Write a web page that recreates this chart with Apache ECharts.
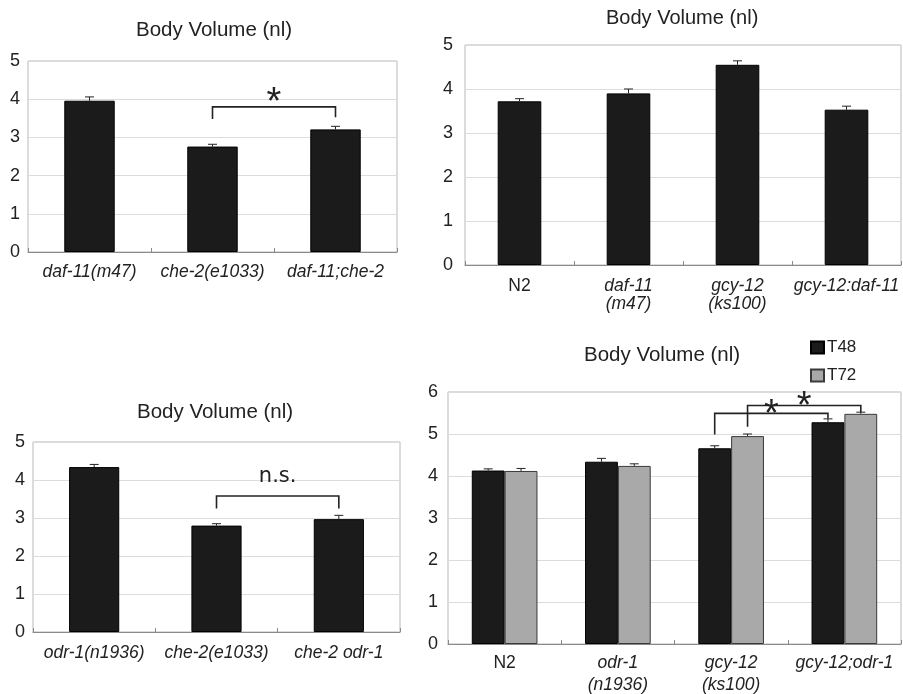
<!DOCTYPE html>
<html><head><meta charset="utf-8">
<script src="https://cdn.jsdelivr.net/npm/echarts@6/dist/echarts.min.js"></script>
<style>html,body{margin:0;padding:0;background:#fff}#c{width:903px;height:694px}</style>
</head><body><div id="c"></div>
<script>
// ---------- DATA ----------
const titleText = 'Body Volume (nl)';

const cats1 = ['daf-11(m47)', 'che-2(e1033)', 'daf-11;che-2'];
const vals1 = [3.96, 2.76, 3.21];
const errs1 = [0.10, 0.06, 0.08];

const cats2 = ['N2', 'daf-11\n(m47)', 'gcy-12\n(ks100)', 'gcy-12:daf-11'];
const vals2 = [3.72, 3.90, 4.55, 3.53];
const errs2 = [0.06, 0.10, 0.09, 0.08];

const cats3 = ['odr-1(n1936)', 'che-2(e1033)', 'che-2 odr-1'];
const vals3 = [4.34, 2.80, 2.97];
const errs3 = [0.07, 0.05, 0.10];

const cats4 = ['N2', 'odr-1\n(n1936)', 'gcy-12\n(ks100)', 'gcy-12;odr-1'];
const seriesNames4 = ['T48', 'T72'];
const valsT48 = [4.13, 4.34, 4.66, 5.28];
const errsT48 = [0.04, 0.08, 0.06, 0.08];
const valsT72 = [4.12, 4.24, 4.95, 5.48];
const errsT72 = [0.06, 0.05, 0.05, 0.04];

const yTicks1 = [0, 5, 1];
const yTicks4 = [0, 6, 1];

// brackets: [fromCat, toCat, barSlot(-1 single / 0 T48 / 1 T72), topValue, leftEndValue, rightEndValue, labelValue]
const brackets1 = [[1, 2, -1, 3.80, 3.48, 3.53, 4.11]];
const bracketLabels1 = ['*'];
const brackets3 = [[1, 2, -1, 3.58, 3.25, 3.25, 4.08]];
const bracketLabels3 = ['n.s.'];
const brackets4 = [[2, 3, 0, 5.49, 4.99, 5.37, 5.64], [2, 3, 1, 5.68, 5.17, 5.52, 5.85]];
const bracketLabels4 = ['*', '*'];

// ---------- STYLE / LAYOUT ----------
const FONT = '"Liberation Sans", Arial, Helvetica, sans-serif';
const TFONT = '"DejaVu Sans", "Liberation Sans", sans-serif';
const TXT = '#222';
const BLACK = '#1b1b1b';
const GRAY = '#a9a9a9';
const grids = [
  {left: 28, top: 61, width: 369, height: 191},
  {left: 465, top: 45, width: 436, height: 220},
  {left: 33, top: 442, width: 367, height: 190},
  {left: 448, top: 392, width: 453, height: 252}
];
const barW = ['41%', '40%', '41%', '29%'];
const slotFrac = {'-1': 0, '0': -0.145, '1': 0.145};

function richFmt(allItalic) {
  return function (v) {
    return v.split('\n').map(s => (!allItalic && s === 'N2') ? '{n|' + s + '}' : '{i|' + s + '}').join('\n');
  };
}

function errRender(frac) {
  return function (params, api) {
    const x = api.value(0), v = api.value(1), e = api.value(2);
    const band = api.size([1, 0])[0];
    const p0 = api.coord([x, v]);
    const p1 = api.coord([x, v + e]);
    const cx = p0[0] + frac * band;
    const cap = 4.5;
    const st = {stroke: '#222', lineWidth: 1};
    return {type: 'group', children: [
      {type: 'line', shape: {x1: cx, y1: p0[1], x2: cx, y2: p1[1]}, style: st},
      {type: 'line', shape: {x1: cx - cap, y1: p1[1], x2: cx + cap, y2: p1[1]}, style: st}
    ]};
  };
}

function bracketRender(labels, fontSize, fontFamily) {
  return function (params, api) {
    const a = api.value(0), b = api.value(1), slot = api.value(2);
    const top = api.value(3), le = api.value(4), re = api.value(5), lv = api.value(6);
    const band = api.size([1, 0])[0];
    const f = slotFrac[String(slot)];
    const xa = api.coord([a, top])[0] + f * band;
    const xb = api.coord([b, top])[0] + f * band;
    const yt = api.coord([a, top])[1];
    const yl = api.coord([a, le])[1];
    const yr = api.coord([b, re])[1];
    const ylab = api.coord([a, lv])[1];
    const label = labels[params.dataIndex];
    const isStar = label === '*';
    return {type: 'group', children: [
      {type: 'polyline', shape: {points: [[xa, yl], [xa, yt], [xb, yt], [xb, yr]]},
       style: {stroke: '#222', lineWidth: 1.6, fill: null}},
      {type: 'text', z2: 10, style: {text: label, x: (xa + xb) / 2,
        y: ylab + (isStar ? fontSize * 0.23 : 0),
        align: 'center', verticalAlign: 'middle', fontSize: fontSize, fontFamily: fontFamily, fill: '#222'}}
    ]};
  };
}

function xAxis(i, cats, allItalic, margin, lh) {
  return {
    type: 'category', gridIndex: i, data: cats,
    axisLine: {lineStyle: {color: '#8a8a8a', width: 1}},
    axisTick: {show: true, inside: true, length: 4, lineStyle: {color: '#8a8a8a'}},
    axisLabel: {margin: margin, interval: 0, formatter: richFmt(allItalic),
      rich: {
        i: {fontStyle: 'italic', fontSize: 17.5, fontFamily: FONT, color: TXT, lineHeight: lh},
        n: {fontStyle: 'normal', fontSize: 17.5, fontFamily: FONT, color: TXT, lineHeight: lh}
      }}
  };
}
function yAxis(i, t, margin) {
  return {
    type: 'value', gridIndex: i, min: t[0], max: t[1], interval: t[2],
    axisLine: {show: false}, axisTick: {show: false},
    splitLine: {lineStyle: {color: '#dcdcdc', width: 1}},
    axisLabel: {margin: margin, fontSize: 18, fontFamily: FONT, color: TXT}
  };
}
function bars(i, name, data, color, width) {
  return {type: 'bar', name: name, xAxisIndex: i, yAxisIndex: i, data: data, barWidth: width, barGap: '0%',
    itemStyle: {color: color, borderColor: color === GRAY ? '#3a3a3a' : '#000', borderWidth: 1}, z: 2};
}
function errSeries(i, vals, errs, frac) {
  return {type: 'custom', xAxisIndex: i, yAxisIndex: i, z: 5, silent: true,
    encode: {x: 0, y: 1},
    data: vals.map((v, k) => [k, v, errs[k]]), renderItem: errRender(frac)};
}
function bracketSeries(i, br, labels, fs, ff) {
  return {type: 'custom', xAxisIndex: i, yAxisIndex: i, z: 6, silent: true,
    encode: {x: 0, y: 3},
    data: br, renderItem: bracketRender(labels, fs, ff)};
}
function title(left, top, fs) {
  return {text: titleText, left: left, top: top, padding: 0,
    textStyle: {fontSize: fs, fontWeight: 'normal', fontFamily: FONT, color: TXT, lineHeight: fs}};
}

const option = {
  animation: false,
  backgroundColor: '#fff',
  title: [title(136, 20, 20.5), title(606, 8, 20), title(137, 402, 20.5), title(584, 345, 20.5)],
  legend: {
    data: seriesNames4, orient: 'vertical', left: 810, top: 339, itemWidth: 13, itemHeight: 12, itemGap: 11,
    icon: 'rect', padding: 0,
    textStyle: {fontSize: 17, fontFamily: FONT, color: TXT, padding: [0, 0, 0, -2], lineHeight: 17}
  },
  grid: grids.map(g => Object.assign({show: true, borderColor: '#b8b8b8', borderWidth: 1, containLabel: false}, g)),
  xAxis: [
    xAxis(0, cats1, true, 11, 18),
    xAxis(1, cats2, false, 12, 18),
    xAxis(2, cats3, true, 12, 18),
    xAxis(3, cats4, false, 8, 22)
  ],
  yAxis: [yAxis(0, yTicks1, 8), yAxis(1, yTicks1, 12), yAxis(2, yTicks1, 8), yAxis(3, yTicks4, 10)],
  series: [
    bars(0, 'p1', vals1, BLACK, barW[0]),
    errSeries(0, vals1, errs1, 0),
    bracketSeries(0, brackets1, bracketLabels1, 38, FONT),
    bars(1, 'p2', vals2, BLACK, barW[1]),
    errSeries(1, vals2, errs2, 0),
    bars(2, 'p3', vals3, BLACK, barW[2]),
    errSeries(2, vals3, errs3, 0),
    bracketSeries(2, brackets3, bracketLabels3, 21, TFONT),
    bars(3, seriesNames4[0], valsT48, BLACK, barW[3]),
    bars(3, seriesNames4[1], valsT72, GRAY, barW[3]),
    errSeries(3, valsT48, errsT48, slotFrac['0']),
    errSeries(3, valsT72, errsT72, slotFrac['1']),
    bracketSeries(3, brackets4, bracketLabels4, 38, FONT)
  ]
};
echarts.init(document.getElementById('c'), null, {renderer: 'canvas'}).setOption(option);
</script></body></html>
